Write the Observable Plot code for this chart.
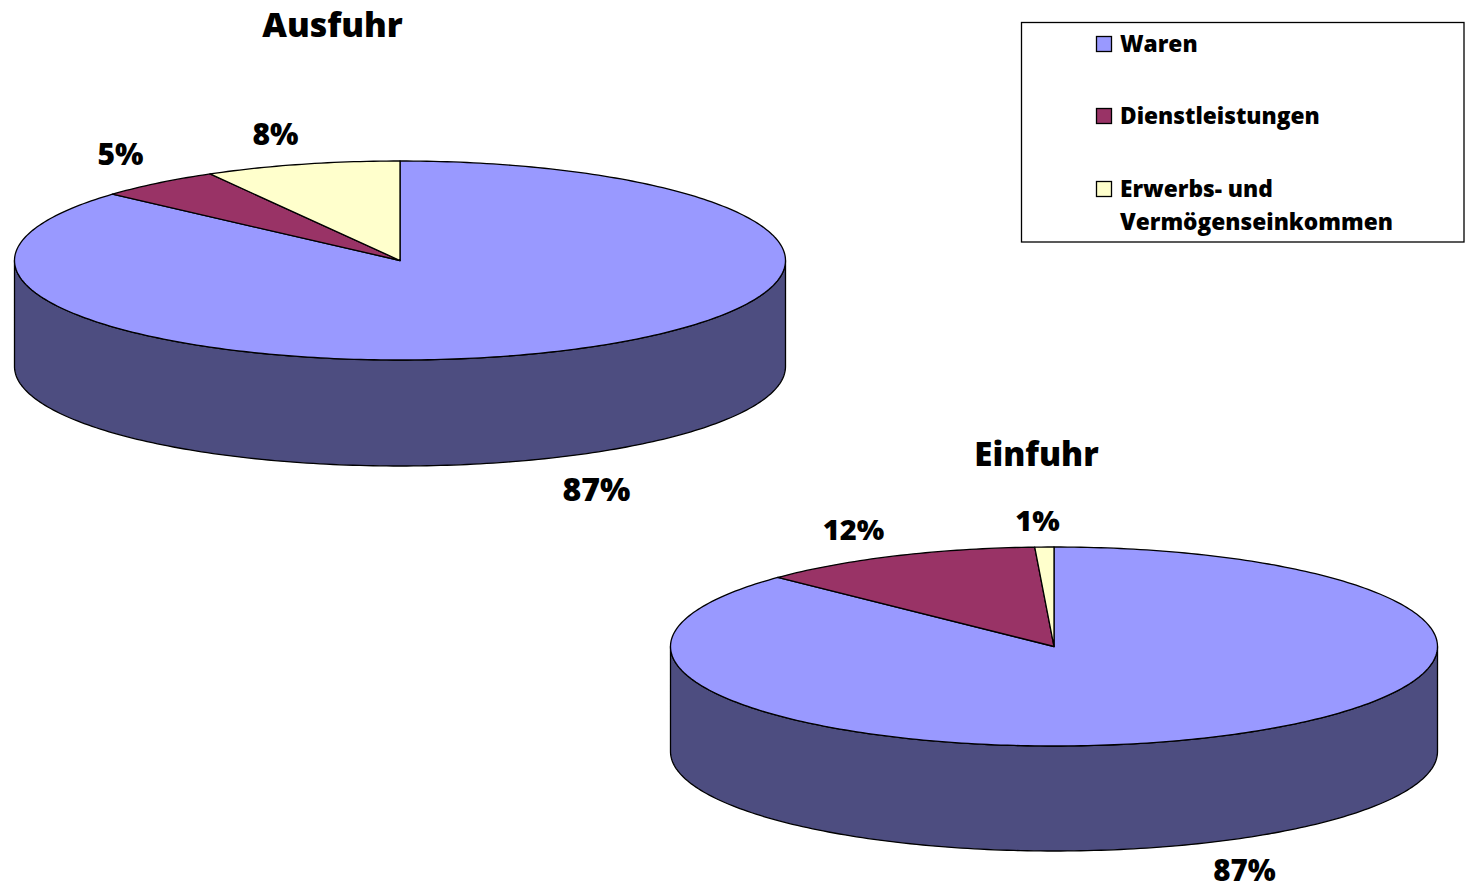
<!DOCTYPE html>
<html lang="de">
<head>
<meta charset="utf-8">
<script src="https://cdn.jsdelivr.net/npm/d3@7"></script>
<script src="https://cdn.jsdelivr.net/npm/@observablehq/plot@0.6"></script>
<style>
html,body{margin:0;padding:0;background:#fff}
svg{display:block}
</style>
</head>
<body>
<div id="chart"></div>
<script>
// Data: shares read from the slice boundaries; the labels show them rounded
const categories = ["Waren", "Dienstleistungen", "Erwerbs- und Vermögenseinkommen"];
const ausfuhrValues = [86.6, 5.2, 8.2];
const einfuhrValues = [87.2, 12, 0.8];
const legendLines = [["Waren"], ["Dienstleistungen"], ["Erwerbs- und", "Vermögenseinkommen"]];

// Styles and layout
const colors = ["#9999FF", "#993366", "#FFFFCC"];
const sideColor = "#4D4D80";
const fontFamily = "'Open Sans', sans-serif";
const W = 1468, H = 883;

const pies = [
  {name: "Ausfuhr", values: ausfuhrValues, cx: 399.5, cy: 260, rx: 385.5, ry: 99.5, depth: 106,
   title: [332, 26], titleSize: 34, labels: [[596, 490], [120, 155], [275, 135]], sizes: [32, 30, 30]},
  {name: "Einfuhr", values: einfuhrValues, cx: 1053.5, cy: 646, rx: 383.5, ry: 99.5, depth: 105,
   title: [1036, 455], titleSize: 33, labels: [[1244, 871], [853, 530], [1037, 521]], sizes: [29.5, 29, 29]}
];

const pt = (p, deg, dy = 0) => {
  const a = deg * Math.PI / 180;
  return {x: p.cx + p.rx * Math.sin(a), y: p.cy - p.ry * Math.cos(a) + dy};
};
const arc = (p, from, to, dy = 0) => {
  const n = Math.max(2, Math.ceil(Math.abs(to - from)));
  return d3.range(n + 1).map(i => pt(p, from + (to - from) * i / n, dy));
};

const shapes = [];
const walls = [];
for (const p of pies) {
  walls.push(...[...arc(p, 90, 270), ...arc(p, 270, 90, p.depth)].map(d => ({...d, z: p.name + "-side"})));
  let start = 0;
  p.values.forEach((v, i) => {
    const end = start + v * 3.6;
    const z = p.name + "-" + i;
    shapes.push({x: p.cx, y: p.cy, z, c: i});
    arc(p, start, end).forEach(d => shapes.push({...d, z, c: i}));
    shapes.push({x: p.cx, y: p.cy, z, c: i});
    start = end;
  });
}

const titles = pies.map(p => ({x: p.title[0], y: p.title[1], t: p.name, s: p.titleSize}));
const labels = pies.flatMap(p => p.values.map((v, i) => ({x: p.labels[i][0], y: p.labels[i][1], t: Math.round(v) + "%", s: p.sizes[i]})));

const swatchTops = [36.5, 108.5, 181.5];
const textYs = [[44], [116], [189, 222]];
const swatches = categories.map((c, i) => ({c: i, x1: 1096.5, x2: 1111.5, y1: swatchTops[i], y2: swatchTops[i] + 15}));
const legendText = legendLines.flatMap((ls, i) => ls.map((t, j) => ({t, x: 1119.5, y: textYs[i][j]})));

const chart = Plot.plot({
  width: W, height: H,
  margin: 0,
  x: {domain: [0, W], range: [0, W], axis: null},
  y: {domain: [0, H], range: [0, H], axis: null},
  style: {background: "#fff"},
  marks: [
    Plot.line(walls, {x: "x", y: "y", z: "z", fill: sideColor, stroke: "#000", strokeWidth: 1.3, curve: "linear-closed"}),
    Plot.line(shapes, {x: "x", y: "y", z: "z", fill: d => colors[d.c], stroke: "#000", strokeWidth: 1.3, curve: "linear", strokeLinejoin: "round"}),
    Plot.text(titles, {x: "x", y: "y", text: "t", fontSize: d => d.s, fontWeight: 800, fontFamily, fill: "#000"}),
    Plot.text(labels, {x: "x", y: "y", text: "t", fontSize: d => d.s, fontWeight: 800, fontFamily, fill: "#000"}),
    Plot.rect([{x1: 1021.5, x2: 1464, y1: 22.5, y2: 242}], {x1: "x1", x2: "x2", y1: "y1", y2: "y2", fill: "none", stroke: "#000", strokeWidth: 1.3}),
    Plot.rect(swatches, {x1: "x1", x2: "x2", y1: "y1", y2: "y2", fill: d => colors[d.c], stroke: "#000", strokeWidth: 1.3}),
    Plot.text(legendText, {x: "x", y: "y", text: "t", textAnchor: "start", fontSize: 22.7, fontWeight: 800, fontFamily, fill: "#000"})
  ]
});
document.getElementById("chart").appendChild(chart);
</script>
</body>
</html>
